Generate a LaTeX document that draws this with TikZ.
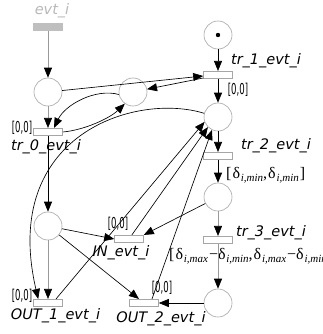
\documentclass[tikz,border=0pt]{standalone}
\usepackage{fontspec}
\usepackage{graphicx}
\setmainfont{DejaVu Sans}
\newfontfamily\dserif{Liberation Serif}
\usetikzlibrary{arrows.meta,calc}
\newcommand\dsb[1]{δ\kern0.8pt\raisebox{-0.45ex}{\fontsize{11}{11}\selectfont\itshape #1}}
\newcommand\zz{\scalebox{0.85}[1.5]{\fontsize{10}{11}\selectfont[0,0]}}
\begin{document}
\begin{tikzpicture}[x=1pt,y=-1pt,
  place/.style={circle,draw=gray!70,line width=0.6pt,minimum size=28pt,inner sep=0pt},
  trans/.style={rectangle,draw=gray!70,fill=white,line width=0.6pt,minimum width=29pt,minimum height=7.5pt,inner sep=0pt},
  lbl/.style={font=\fontsize{14.5}{16}\selectfont\itshape,inner sep=0pt},
  tim/.style={inner sep=0pt,font=\fontsize{10}{11}\selectfont},
  dl/.style={inner sep=0pt,font=\dserif\fontsize{16}{17}\selectfont},
  lnk/.style={draw=black,line width=0.65pt,-{Triangle[length=10pt,width=8pt,color=black]}},
  glnk/.style={lnk,draw=gray!80},
]
\useasboundingbox (0,0) rectangle (323,334);
\fill[white] (0,0) rectangle (323,334);
% places
\node[place] (p0) at (48,92) {};
\node[place] (p1) at (133,92) {};
\node[place] (pt) at (218,35) {};
\node[place] (pm) at (218,117) {};
\node[place] (pa2) at (218,197) {};
\node[place] (pa3) at (218,303) {};
\node[place] (plb) at (48,226) {};
\fill (pt) circle (2.2pt);
% transitions
\node[trans,fill=gray!50,draw=none,minimum height=8pt,minimum width=30pt] (evt) at (48,27) {};
\node[trans] (t0) at (48,132) {};
\node[trans] (t1) at (218,75) {};
\node[trans] (t2) at (218,156) {};
\node[trans] (t3) at (218,240) {};
\node[trans] (tin) at (129,239) {};
\node[trans] (tout1) at (48,303) {};
\node[trans] (tout2) at (144,303) {};
% labels
\node[lbl,text=gray!55] (levt) at (52,11) {evt\_i};
\node[lbl] (lt1) at (266,61) {tr\_1\_evt\_i};
\node[lbl] (lt0) at (46,146.5) {tr\_0\_evt\_i};
\node[lbl] (lt2) at (276,146) {tr\_2\_evt\_i};
\node[lbl] (lt3) at (271,232.5) {tr\_3\_evt\_i};
\node[lbl] (lin) at (121,252.5) {IN\_evt\_i};
\node[lbl] (lo1) at (55.5,316) {OUT\_1\_evt\_i};
\node[lbl] (lo2) at (161,319) {OUT\_2\_evt\_i};
\node[tim] (z1) at (238,90) {\zz};
\node[tim] (z0) at (22,128) {\zz};
\node[tim] (zin) at (118,224) {\zz};
\node[tim] (zo1) at (22,296) {\zz};
\node[tim] (zo2) at (162,288) {\zz};
\node[dl,anchor=west] (d2) at (226,175.5) {[\kern1pt\dsb{i,min},\kern1pt\dsb{i,min}\kern1pt]};
\node[dl,anchor=west] (d3) at (169,256) {[\kern1pt\dsb{i,max}\kern1pt−\dsb{i,min},\kern1pt\dsb{i,max}\kern1pt−\dsb{i,min}};
% arcs
\draw[glnk] (evt) -- (p0);
\draw[glnk] (p0) -- (t0);
\draw[lnk] (t0) -- (plb);
\draw[glnk] (plb) -- (tout1);
\draw[lnk] (pt) -- (t1);
\draw[lnk] (t1) -- (pm);
\draw[lnk] (pm) -- (t2);
\draw[lnk] (t2) -- (pa2);
\draw[glnk] (pa2) -- (t3);
\draw[glnk] (t3) -- (pa3);
\draw[lnk] (pa3) -- (tout2);
\draw[lnk] (p0) -- ($(t1.west)+(0,1)$);
\draw[lnk] ($(t1.west)+(0,3)$) -- (p1);
\draw[lnk] (p1.190) .. controls (95,88) and (65,105) .. ($(t0.north)+(6,0)$);
\draw[lnk] (t0.east) .. controls (85,130) and (110,118) .. (p1.235);
\draw[lnk] (pm.165) .. controls (135,92) and (0,135) .. ($(tout1.north west)+(5,0)$);
\draw[lnk] (plb) -- (tin.west);
\draw[lnk] (plb) -- (tout2);
\draw[lnk] (pa2) -- (tin.north east);
\draw[lnk] (tin) -- (pm.225);
\draw[lnk] ($(tout1.north)+(8,0)$) -- (pm.200);
\draw[lnk] ($(tout2.north)+(8,0)$) -- (pm.245);
\end{tikzpicture}
\end{document}
